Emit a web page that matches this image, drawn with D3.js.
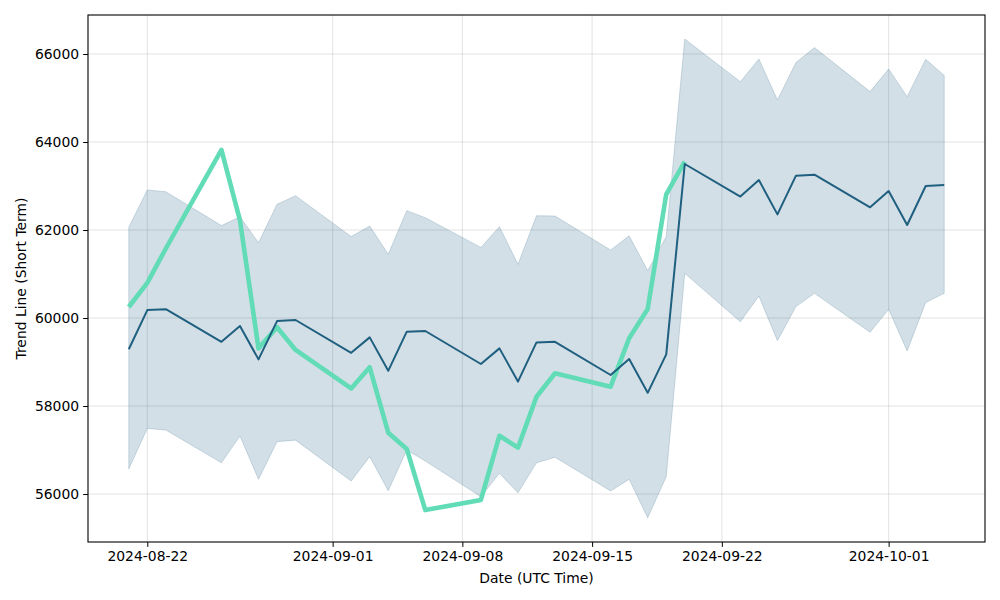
<!DOCTYPE html>
<html>
<head>
<meta charset="utf-8">
<script src="https://cdn.jsdelivr.net/npm/d3@7"></script>
<style>
  body { margin: 0; background: #fff; }
  svg { display: block; font-family: "DejaVu Sans", sans-serif; }
</style>
</head>
<body>
<svg id="chart" width="1000" height="600"></svg>
<script>
// ---- data ----
const dates = [
  "2024-08-21","2024-08-22","2024-08-23","2024-08-26","2024-08-27","2024-08-28","2024-08-29","2024-08-30",
  "2024-09-02","2024-09-03","2024-09-04","2024-09-05","2024-09-06",
  "2024-09-09","2024-09-10","2024-09-11","2024-09-12","2024-09-13",
  "2024-09-16","2024-09-17","2024-09-18","2024-09-19","2024-09-20",
  "2024-09-23","2024-09-24","2024-09-25","2024-09-26","2024-09-27",
  "2024-09-30","2024-10-01","2024-10-02","2024-10-03","2024-10-04"
];
const trendMean = [
  59290, 60180, 60200, 59460, 59820, 59060, 59930, 59955,
  59210, 59560, 58800, 59690, 59705,
  58955, 59310, 58555, 59445, 59460,
  58705, 59070, 58300, 59175, 63500,
  62760, 63135, 62355, 63235, 63258,
  62515, 62885, 62115, 63000, 63023
];
const bandUpper = [
  62060, 62910, 62870, 62100, 62300, 61710, 62585, 62780,
  61850, 62090, 61450, 62440, 62280,
  61605, 62075, 61220, 62325, 62318,
  61545, 61870, 61075, 61850, 66340,
  65370, 65885, 64955, 65805, 66145,
  65145, 65660, 65030, 65880, 65510
];
const bandLower = [
  56570, 57490, 57455, 56710, 57320, 56335, 57190, 57225,
  56295, 56850, 56075, 57000, 56750,
  55940, 56470, 56030, 56710, 56835,
  56070, 56335, 55460, 56395, 61015,
  59915, 60500, 59485, 60260, 60560,
  59675, 60200, 59250, 60355, 60560
];
const priceDates = [
  "2024-08-21","2024-08-22","2024-08-23","2024-08-26","2024-08-27","2024-08-28","2024-08-29","2024-08-30",
  "2024-09-02","2024-09-03","2024-09-04","2024-09-05","2024-09-06",
  "2024-09-09","2024-09-10","2024-09-11","2024-09-12","2024-09-13",
  "2024-09-16","2024-09-17","2024-09-18","2024-09-19","2024-09-20"
];
const priceValues = [
  60250, 60800, 61580, 63820, 62220, 59310, 59790, 59275,
  58400, 58880, 57395, 57025, 55635,
  55865, 57325, 57055, 58210, 58745,
  58440, 59540, 60205, 62810, 63555
];
const xTickLabels = ["2024-08-22","2024-09-01","2024-09-08","2024-09-15","2024-09-22","2024-10-01"];
const yTickValues = [56000, 58000, 60000, 62000, 64000, 66000];
const xAxisTitle = "Date (UTC Time)";
const yAxisTitle = "Trend Line (Short Term)";

// ---- layout ----
const W = 1000, H = 600;
const m = { left: 88, right: 985, top: 15, bottom: 542 };
const parse = d3.utcParse("%Y-%m-%d");
const DAY = 86400000;

const xs = dates.map(parse);
const x0 = d3.min(xs).getTime(), x1 = d3.max(xs).getTime();
const xPad = (x1 - x0) * 0.05;
const x = d3.scaleUtc().domain([new Date(x0 - xPad), new Date(x1 + xPad)]).range([m.left, m.right]);
const y = d3.scaleLinear().domain([54910, 66886]).range([m.bottom, m.top]);

const svg = d3.select("#chart");
svg.append("rect").attr("width", W).attr("height", H).attr("fill", "#fff");

const xTicks = xTickLabels.map(parse);

// grid
const grid = svg.append("g");
grid.selectAll(".gx").data(xTicks).enter().append("line")
  .attr("x1", d => x(d)).attr("x2", d => x(d))
  .attr("y1", m.top).attr("y2", m.bottom)
  .attr("stroke", "#b0b0b0").attr("stroke-opacity", 0.35).attr("stroke-width", 1);
grid.selectAll(".gy").data(yTickValues).enter().append("line")
  .attr("x1", m.left).attr("x2", m.right)
  .attr("y1", d => y(d)).attr("y2", d => y(d))
  .attr("stroke", "#b0b0b0").attr("stroke-opacity", 0.35).attr("stroke-width", 1);

// band
const bandData = xs.map((d, i) => ({ d, lo: bandLower[i], hi: bandUpper[i] }));
const area = d3.area().x(p => x(p.d)).y0(p => y(p.lo)).y1(p => y(p.hi));
svg.append("path").datum(bandData).attr("d", area)
  .attr("fill", "#235f80").attr("fill-opacity", 0.2)
  .attr("stroke", "#235f80").attr("stroke-opacity", 0.2).attr("stroke-width", 1);

// price line (green)
const priceData = priceDates.map((d, i) => ({ d: parse(d), v: priceValues[i] }));
const line = d3.line().x(p => x(p.d)).y(p => y(p.v));
svg.append("path").datum(priceData).attr("d", line)
  .attr("fill", "none").attr("stroke", "#61dcb6").attr("stroke-width", 4.6)
  .attr("stroke-linejoin", "round").attr("stroke-linecap", "butt");

// trend line (dark)
const meanData = xs.map((d, i) => ({ d, v: trendMean[i] }));
svg.append("path").datum(meanData).attr("d", line)
  .attr("fill", "none").attr("stroke", "#1f5f7f").attr("stroke-width", 2)
  .attr("stroke-linejoin", "round");

// axes
const xAxis = d3.axisBottom(x).tickValues(xTicks).tickFormat(d3.utcFormat("%Y-%m-%d")).tickSize(4.9).tickPadding(4);
const gx = svg.append("g").attr("transform", `translate(0,${m.bottom})`).call(xAxis);
gx.select(".domain").remove();
gx.selectAll("line").attr("stroke", "#000").attr("stroke-width", 1);
gx.selectAll("text").attr("font-size", "13.9px").attr("fill", "#000").attr("font-family", "DejaVu Sans");

const yAxis = d3.axisLeft(y).tickValues(yTickValues).tickFormat(d3.format("d")).tickSize(4.9).tickPadding(4);
const gy = svg.append("g").attr("transform", `translate(${m.left},0)`).call(yAxis);
gy.select(".domain").remove();
gy.selectAll("line").attr("stroke", "#000").attr("stroke-width", 1);
gy.selectAll("text").attr("font-size", "13.9px").attr("fill", "#000").attr("font-family", "DejaVu Sans");

// frame
svg.append("rect").attr("x", m.left).attr("y", m.top)
  .attr("width", m.right - m.left).attr("height", m.bottom - m.top)
  .attr("fill", "none").attr("stroke", "#000").attr("stroke-width", 1.1);

// titles
svg.append("text").attr("x", (m.left + m.right) / 2).attr("y", 583)
  .attr("text-anchor", "middle").attr("font-size", "13.9px").attr("fill", "#000")
  .text(xAxisTitle);
svg.append("text").attr("transform", `translate(26,${(m.top + m.bottom) / 2}) rotate(-90)`)
  .attr("text-anchor", "middle").attr("font-size", "13.9px").attr("fill", "#000")
  .text(yAxisTitle);
</script>
</body>
</html>
